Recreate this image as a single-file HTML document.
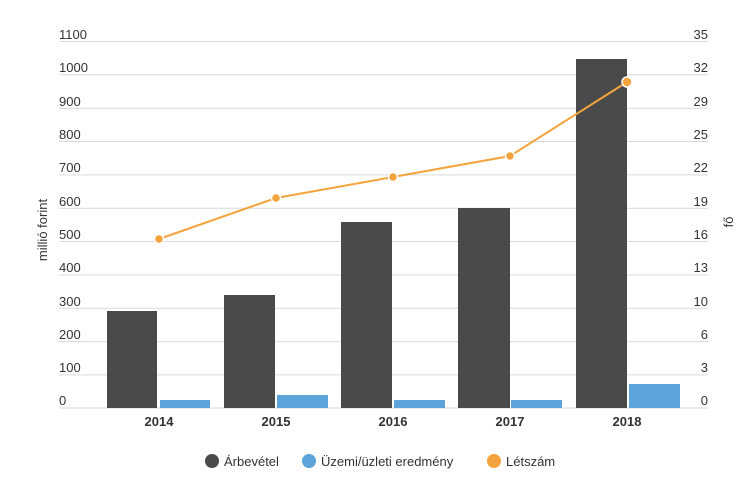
<!DOCTYPE html><html><head><meta charset="utf-8"><style>body{margin:0;background:#fff}svg{display:block;font-family:"Liberation Sans",sans-serif}</style></head><body>
<svg width="748" height="487" viewBox="0 0 748 487">
<g stroke="#d9d9d9" stroke-width="1">
<line x1="59" x2="708" y1="41.5" y2="41.5"/><line x1="59" x2="708" y1="74.8" y2="74.8"/><line x1="59" x2="708" y1="108.2" y2="108.2"/><line x1="59" x2="708" y1="141.5" y2="141.5"/><line x1="59" x2="708" y1="174.9" y2="174.9"/><line x1="59" x2="708" y1="208.2" y2="208.2"/><line x1="59" x2="708" y1="241.5" y2="241.5"/><line x1="59" x2="708" y1="274.9" y2="274.9"/><line x1="59" x2="708" y1="308.2" y2="308.2"/><line x1="59" x2="708" y1="341.6" y2="341.6"/><line x1="59" x2="708" y1="374.9" y2="374.9"/><line x1="59" x2="708" y1="408" y2="408"/>
</g>
<g font-size="13" fill="#333">
<text x="59" y="39">1100</text><text x="59" y="72">1000</text><text x="59" y="106">900</text><text x="59" y="139">800</text><text x="59" y="172">700</text><text x="59" y="206">600</text><text x="59" y="239">500</text><text x="59" y="272">400</text><text x="59" y="306">300</text><text x="59" y="339">200</text><text x="59" y="372">100</text><text x="59" y="405">0</text>
</g>
<g font-size="13" fill="#333" text-anchor="end">
<text x="708" y="39">35</text><text x="708" y="72">32</text><text x="708" y="106">29</text><text x="708" y="139">25</text><text x="708" y="172">22</text><text x="708" y="206">19</text><text x="708" y="239">16</text><text x="708" y="272">13</text><text x="708" y="306">10</text><text x="708" y="339">6</text><text x="708" y="372">3</text><text x="708" y="405">0</text>
</g>
<text transform="translate(47,230) rotate(-90)" font-size="13" fill="#333" text-anchor="middle">millió forint</text>
<text transform="translate(733,222) rotate(-90)" font-size="13" fill="#333" text-anchor="middle">fő</text>
<g fill="#4a4a4a">
<rect x="107" y="311" width="50" height="97"/><rect x="224" y="295" width="51" height="113"/><rect x="341" y="222" width="51" height="186"/><rect x="458" y="208" width="52" height="200"/><rect x="576" y="59" width="51" height="349"/>
</g>
<g fill="#5ba3d9">
<rect x="160" y="400" width="50" height="8"/><rect x="277" y="395" width="51" height="13"/><rect x="394" y="400" width="51" height="8"/><rect x="511" y="400" width="51" height="8"/><rect x="629" y="384" width="51" height="24"/>
</g>
<polyline points="159,239 276,198 393,177 510,156 627,82" fill="none" stroke="#f5a33d" stroke-width="2"/>
<g fill="#f5a33d" stroke="#fff" stroke-width="1.5">
<circle cx="159" cy="239" r="4.5"/><circle cx="276" cy="198" r="4.5"/><circle cx="393" cy="177" r="4.5"/><circle cx="510" cy="156" r="4.5"/><circle cx="627" cy="82" r="5"/>
</g>
<g font-size="13" fill="#333" text-anchor="middle" font-weight="bold">
<text x="159" y="426">2014</text><text x="276" y="426">2015</text><text x="393" y="426">2016</text><text x="510" y="426">2017</text><text x="627" y="426">2018</text>
</g>
<g font-size="13" fill="#333">
<circle cx="212" cy="461" r="7" fill="#4a4a4a"/><text x="224" y="466">Árbevétel</text>
<circle cx="309" cy="461" r="7" fill="#5ba3d9"/><text x="321" y="466">Üzemi/üzleti eredmény</text>
<circle cx="494" cy="461" r="7" fill="#f5a33d"/><text x="506" y="466">Létszám</text>
</g>
</svg></body></html>
